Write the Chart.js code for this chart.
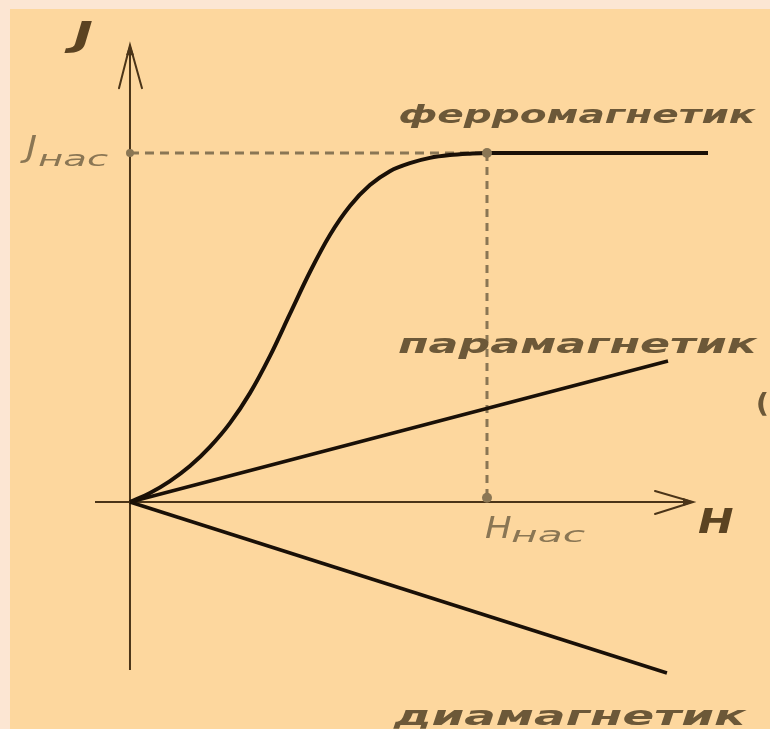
<!DOCTYPE html>
<html>
<head>
<meta charset="utf-8">
<script src="https://cdn.jsdelivr.net/npm/chart.js@4"></script>
<style>
  html, body { margin: 0; padding: 0; background: #fce6d3; }
  #wrap { width: 770px; height: 729px; }
</style>
</head>
<body>
<div id="wrap"><canvas id="magChart" width="770" height="729"></canvas></div>
<script>
// magnetisation J against field H, arbitrary units (saturation at H = 10, J = 10)
const ferroH = [0, 0.56, 1.12, 1.68, 2.24, 2.80, 3.36, 3.92, 4.48, 5.04, 5.60, 6.16, 6.72, 7.28, 7.84, 8.40, 8.96, 9.52, 10, 16.19];
const ferroJ = [0, 0.26, 0.60, 1.03, 1.58, 2.26, 3.12, 4.18, 5.39, 6.59, 7.65, 8.48, 9.08, 9.48, 9.71, 9.86, 9.94, 9.98, 10, 10];
const paraH = [0, 15.07];
const paraJ = [0, 4.04];
const diaH = [0, 15.04];
const diaJ = [0, -4.9];
const satH = 10;
const satJ = 10;
const axisH = [-0.98, 15.77];
const axisJ = [-4.81, 13.09];

const pts = (xs, ys) => xs.map((x, i) => ({ x: x, y: ys[i] }));

const INK = '#1a1007';
const AXIS = '#4b3418';
const GREY = '#8a7654';
const WORD = '#6c5838';

function wideText(ctx, text, x, y, width, font, color) {
  ctx.save();
  ctx.font = font;
  ctx.fillStyle = color;
  ctx.textBaseline = 'alphabetic';
  const m = ctx.measureText(text);
  const w = m.actualBoundingBoxLeft + m.actualBoundingBoxRight;
  const k = width / w;
  ctx.translate(x + m.actualBoundingBoxLeft * k, y);
  ctx.scale(k, 1);
  ctx.fillText(text, 0, 0);
  ctx.restore();
}

const decor = {
  id: 'decor',
  beforeDraw(chart) {
    const ctx = chart.ctx;
    ctx.save();
    ctx.fillStyle = '#fce6d3';
    ctx.fillRect(0, 0, chart.width, chart.height);
    ctx.fillStyle = '#fdd79e';
    ctx.fillRect(10, 9, chart.width - 10, chart.height - 9);
    ctx.restore();
  },
  afterDatasetsDraw(chart) {
    const ctx = chart.ctx;
    const sx = chart.scales.x, sy = chart.scales.y;
    const x0 = sx.getPixelForValue(0), y0 = sy.getPixelForValue(0);
    const hx = sx.getPixelForValue(axisH[1]);
    const jy = sy.getPixelForValue(axisJ[1]);

    ctx.save();
    ctx.strokeStyle = AXIS;
    ctx.fillStyle = AXIS;
    ctx.lineWidth = 2;
    ctx.lineCap = 'round';
    // H arrow
    ctx.beginPath();
    ctx.moveTo(hx - 38, y0 - 11); ctx.lineTo(hx, y0); ctx.lineTo(hx - 38, y0 + 12);
    ctx.stroke();
    ctx.beginPath();
    ctx.moveTo(hx + 1, y0); ctx.lineTo(hx - 10, y0 - 4); ctx.lineTo(hx - 10, y0 + 4);
    ctx.closePath(); ctx.fill();
    // J arrow
    ctx.beginPath();
    ctx.moveTo(x0 - 11, jy + 43); ctx.lineTo(x0, jy); ctx.lineTo(x0 + 12, jy + 43);
    ctx.stroke();
    ctx.beginPath();
    ctx.moveTo(x0, jy - 1); ctx.lineTo(x0 - 4, jy + 10); ctx.lineTo(x0 + 4, jy + 10);
    ctx.closePath(); ctx.fill();
    ctx.restore();

    // axis names
    wideText(ctx, 'J', 64, 46, 28, 'italic bold 34px "DejaVu Sans"', '#5b4322');
    wideText(ctx, 'H', 698, 533, 35, 'italic bold 34px "DejaVu Sans"', '#5b4322');

    // saturation labels
    wideText(ctx, 'J', 20, 157, 16, 'italic 30px "DejaVu Sans"', GREY);
    wideText(ctx, 'нас', 38, 166, 70, 'italic 22px "DejaVu Sans"', GREY);
    wideText(ctx, 'H', 485, 538, 26, 'italic 30px "DejaVu Sans"', GREY);
    wideText(ctx, 'нас', 511, 542, 74, 'italic 22px "DejaVu Sans"', GREY);

    // curve names
    wideText(ctx, 'ферромагнетик', 400, 123, 357, 'italic bold 25px "DejaVu Sans"', WORD);
    wideText(ctx, 'парамагнетик', 398, 353, 360, 'italic bold 27px "DejaVu Sans"', WORD);
    wideText(ctx, 'диамагнетик', 392, 725, 355, 'italic bold 27px "DejaVu Sans"', WORD);
    wideText(ctx, '(', 758, 412, 9, 'bold 26px "DejaVu Sans"', WORD);
  }
};

new Chart(document.getElementById('magChart').getContext('2d'), {
  type: 'scatter',
  data: {
    datasets: [
      {
        label: 'ферромагнетик',
        data: pts(ferroH, ferroJ),
        showLine: true,
        borderColor: INK,
        borderWidth: 4,
        pointRadius: 0,
        cubicInterpolationMode: 'monotone',
        order: 1
      },
      {
        label: 'парамагнетик',
        data: pts(paraH, paraJ),
        showLine: true,
        borderColor: INK,
        borderWidth: 3.5,
        pointRadius: 0,
        order: 1
      },
      {
        label: 'диамагнетик',
        data: pts(diaH, diaJ),
        showLine: true,
        borderColor: INK,
        borderWidth: 3.5,
        pointRadius: 0,
        order: 1
      },
      {
        label: 'J нас',
        data: pts([0, satH], [satJ, satJ]),
        showLine: true,
        borderColor: GREY,
        borderWidth: 3,
        borderDash: [9, 6],
        pointRadius: 0,
        order: 3
      },
      {
        label: 'H нас',
        data: pts([satH, satH], [satJ, 0.12]),
        showLine: true,
        borderColor: GREY,
        borderWidth: 3,
        borderDash: [8, 6],
        pointRadius: 0,
        order: 3
      },
      {
        label: 'точки',
        data: pts([0, satH, satH], [satJ, satJ, 0.12]),
        showLine: false,
        pointRadius: [4, 5, 5],
        pointBackgroundColor: GREY,
        pointBorderWidth: 0,
        order: 0
      },
      {
        label: 'ось H',
        data: pts(axisH, [0, 0]),
        showLine: true,
        borderColor: AXIS,
        borderWidth: 2,
        pointRadius: 0,
        order: 2
      },
      {
        label: 'ось J',
        data: pts([0, 0], axisJ),
        showLine: true,
        borderColor: AXIS,
        borderWidth: 2,
        pointRadius: 0,
        order: 2
      }
    ]
  },
  options: {
    responsive: false,
    animation: false,
    devicePixelRatio: 1,
    layout: { padding: 0, autoPadding: false },
    plugins: { legend: { display: false }, tooltip: { enabled: false } },
    scales: {
      x: { type: 'linear', display: false, min: -3.641, max: 17.927 },
      y: { type: 'linear', display: false, min: -6.504, max: 14.384 }
    }
  },
  plugins: [decor]
});
</script>
</body>
</html>
